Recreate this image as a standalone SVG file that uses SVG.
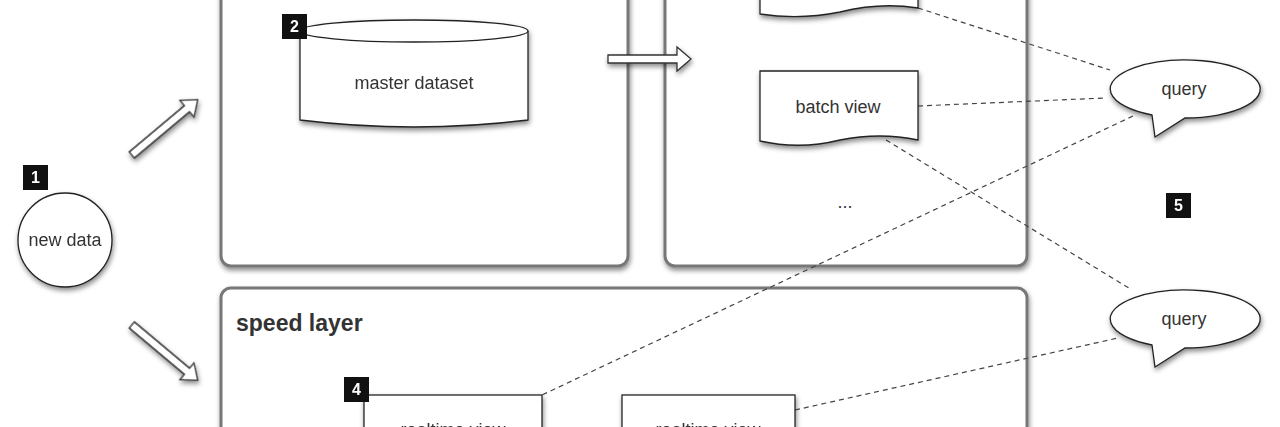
<svg xmlns="http://www.w3.org/2000/svg" width="1280" height="427" viewBox="0 0 1280 427">
<style>
text{font-family:"Liberation Sans",Arial,sans-serif;fill:#333}
.lay{fill:#fff;stroke:#777;stroke-width:3}
.sh{fill:#fff;stroke:#222;stroke-width:1.3}
.dash{fill:none;stroke:#444;stroke-width:1.2;stroke-dasharray:5 4}
.badge rect{fill:#111}
.badge text{fill:#fff;font-weight:bold;font-size:16px;text-anchor:middle}
.lbl{font-size:18px;text-anchor:middle}
.arr{fill:#fff;stroke:#333;stroke-width:1.3}
</style>
<defs>
<filter id="ds" x="-20%" y="-20%" width="140%" height="150%"><feDropShadow dx="1" dy="3" stdDeviation="2.5" flood-opacity="0.45"/></filter>
</defs>
<rect width="1280" height="427" fill="#fff"/>
<g id="batch-layer"><rect class="lay" x="221" y="-20" width="407" height="286" rx="10" filter="url(#ds)"/></g>
<g id="serving-layer"><rect class="lay" x="665" y="-20" width="362" height="286" rx="10" filter="url(#ds)"/>
<text x="845" y="208" class="lbl">...</text></g>
<g id="speed-layer"><rect class="lay" x="221" y="288" width="806" height="160" rx="10" filter="url(#ds)"/>
<text x="236" y="331" font-size="23" font-weight="bold" fill="#222">speed layer</text></g>
<g id="connectors">
<path class="dash" d="M918 8 L1110 70"/>
<path class="dash" d="M918 106 L1105 98"/>
<path class="dash" d="M886 140 L1132 290"/>
<path class="dash" d="M1133 116 L542 395"/>
<path class="dash" d="M795 410 L1118 338"/>
<g filter="url(#ds)">
<path class="arr" d="M608 55 L677 55 L677 47 L691 59 L677 71 L677 63 L608 63 Z"/>
<path class="arr" transform="translate(164,128) rotate(-40)" d="M-42 -4 L30 -4 L30 -11 L44 0 L30 11 L30 4 L-42 4 Z"/>
<path class="arr" transform="translate(164,352) rotate(40)" d="M-42 -4 L30 -4 L30 -11 L44 0 L30 11 L30 4 L-42 4 Z"/>
</g>
</g>
<g id="new-data"><circle class="sh" cx="65" cy="240" r="47" filter="url(#ds)"/><text x="65" y="246" class="lbl" font-size="16">new data</text></g>
<g id="master-dataset" filter="url(#ds)">
<path class="sh" d="M300 31 L300 120 Q414 134 528 120 L528 31"/>
<ellipse class="sh" cx="414" cy="31" rx="114" ry="11"/>
<text x="414" y="89" class="lbl">master dataset</text></g>
<g id="batch-view-top"><path class="sh" filter="url(#ds)" d="M760 -10 L918 -10 L918 8 Q880 2 840 12 Q800 20 760 14 Z"/></g>
<g id="batch-view"><path class="sh" filter="url(#ds)" d="M760 71 L918 71 L918 140 Q880 132 840 140 Q800 150 760 141 Z"/>
<text x="838" y="113" class="lbl">batch view</text></g>
<g id="query1"><path class="sh" filter="url(#ds)" d="M1152 115 A75 29 0 1 1 1185 118 L1155 137 Z"/>
<text x="1184" y="95" class="lbl">query</text></g>
<g id="query2"><path class="sh" filter="url(#ds)" d="M1152 345 A75 29 0 1 1 1185 348 L1155 367 Z"/>
<text x="1184" y="325" class="lbl">query</text></g>
<g id="rt1"><rect class="sh" filter="url(#ds)" x="364" y="395" width="178" height="60"/><text x="453" y="436" class="lbl">realtime view</text></g>
<g id="rt2"><rect class="sh" filter="url(#ds)" x="622" y="395" width="173" height="60"/><text x="708" y="436" class="lbl">realtime view</text></g>
<g class="badge"><rect x="282" y="14" width="25" height="25"/><text x="294.5" y="32">2</text></g>
<g class="badge"><rect x="23" y="165" width="25" height="25"/><text x="35.5" y="183">1</text></g>
<g class="badge"><rect x="344" y="377" width="25" height="25"/><text x="356.5" y="395">4</text></g>
<g class="badge"><rect x="1166" y="193" width="25" height="25"/><text x="1178.5" y="211">5</text></g>
</svg>
